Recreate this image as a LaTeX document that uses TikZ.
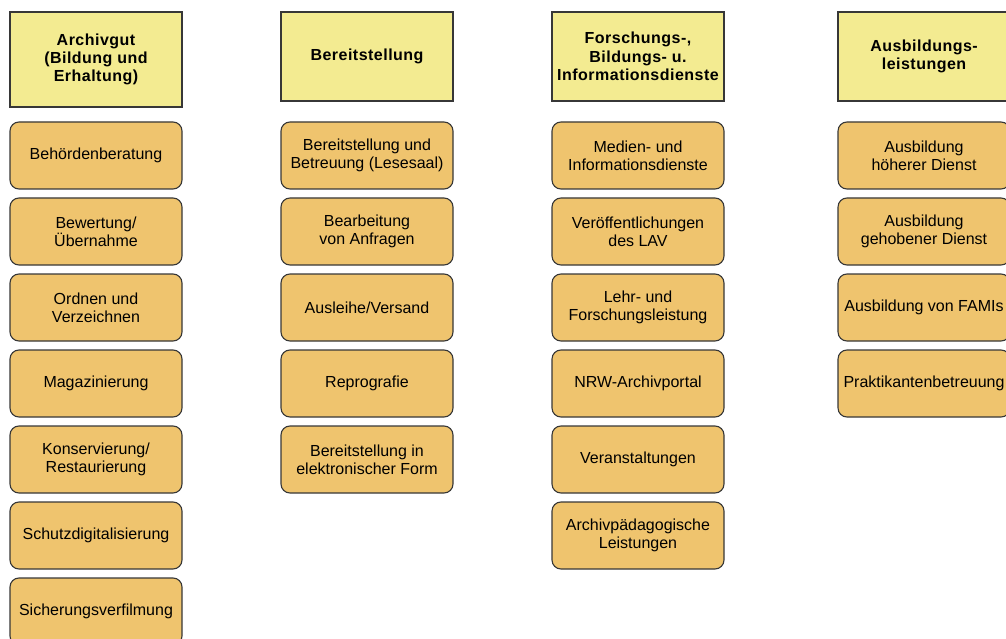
\documentclass[tikz,border=0pt]{standalone}
\usepackage{fontspec}
\setmainfont{Liberation Sans}
\usepackage{xcolor}
\usepackage{tikz}
\usetikzlibrary{positioning}
\definecolor{headyellow}{RGB}{243,235,145}
\definecolor{itemorange}{RGB}{239,196,110}
\definecolor{boxline}{RGB}{55,55,55}

\begin{document}
\begin{tikzpicture}[
        x=1pt, y=-1pt,
        head/.style={rectangle, draw=boxline, line width=1.1pt, fill=headyellow, minimum width=172pt, minimum height=89pt, inner sep=0pt, align=center, font=\fontsize{16}{18.3}\selectfont\bfseries\addfontfeature{LetterSpace=3}},
        task/.style={rectangle, rounded corners=9pt, draw=boxline, line width=1.1pt, fill=itemorange, minimum width=172pt, minimum height=67pt, inner sep=0pt, align=center, font=\fontsize{16}{18}\selectfont}
    ]
        \useasboundingbox (0,0) rectangle (1006,639);

        % Spalte 1
        \node[head, minimum height=95pt] (archiv) at (96, 59.5) {Archivgut\\(Bildung und\\Erhaltung)};
        \node[task] (beratung)   at (96, 155.5) {Behördenberatung};
        \node[task] (bewertung)  at (96, 231.5) {Bewertung/\\Übernahme};
        \node[task] (ordnen)     at (96, 307.5) {Ordnen und\\Verzeichnen};
        \node[task] (magazin)    at (96, 383.5) {Magazinierung};
        \node[task] (konserv)    at (96, 459.5) {Konservierung/\\Restaurierung};
        \node[task] (schutzdig)  at (96, 535.5) {Schutzdigitalisierung};
        \node[task] (verfilmung) at (96, 611.5) {Sicherungsverfilmung};

        % Spalte 2
        \node[head] (bereit)    at (367, 56.5) {Bereitstellung};
        \node[task] (lesesaal)  at (367, 155.5) {Bereitstellung und\\Betreuung (Lesesaal)};
        \node[task] (anfragen)  at (367, 231.5) {Bearbeitung\\von Anfragen};
        \node[task] (ausleihe)  at (367, 307.5) {Ausleihe/Versand};
        \node[task] (repro)     at (367, 383.5) {Reprografie};
        \node[task] (elektr)    at (367, 459.5) {Bereitstellung in\\elektronischer Form};

        % Spalte 3
        \node[head] (forsch)    at (638, 56.5) {Forschungs-,\\Bildungs- u.\\Informationsdienste};
        \node[task] (medien)    at (638, 155.5) {Medien- und\\Informationsdienste};
        \node[task] (veroeff)   at (638, 231.5) {Veröffentlichungen\\des LAV};
        \node[task] (lehre)     at (638, 307.5) {Lehr- und\\Forschungsleistung};
        \node[task] (portal)    at (638, 383.5) {NRW-Archivportal};
        \node[task] (veranst)   at (638, 459.5) {Veranstaltungen};
        \node[task] (paedag)    at (638, 535.5) {Archivpädagogische\\Leistungen};

        % Spalte 4
        \node[head] (ausb)      at (924, 56.5) {Ausbildungs-\\leistungen};
        \node[task] (hoeher)    at (924, 155.5) {Ausbildung\\höherer Dienst};
        \node[task] (gehoben)   at (924, 231.5) {Ausbildung\\gehobener Dienst};
        \node[task] (famis)     at (924, 307.5) {Ausbildung von FAMIs};
        \node[task] (praktika)  at (924, 383.5) {Praktikantenbetreuung};
    \end{tikzpicture}
\end{document}
